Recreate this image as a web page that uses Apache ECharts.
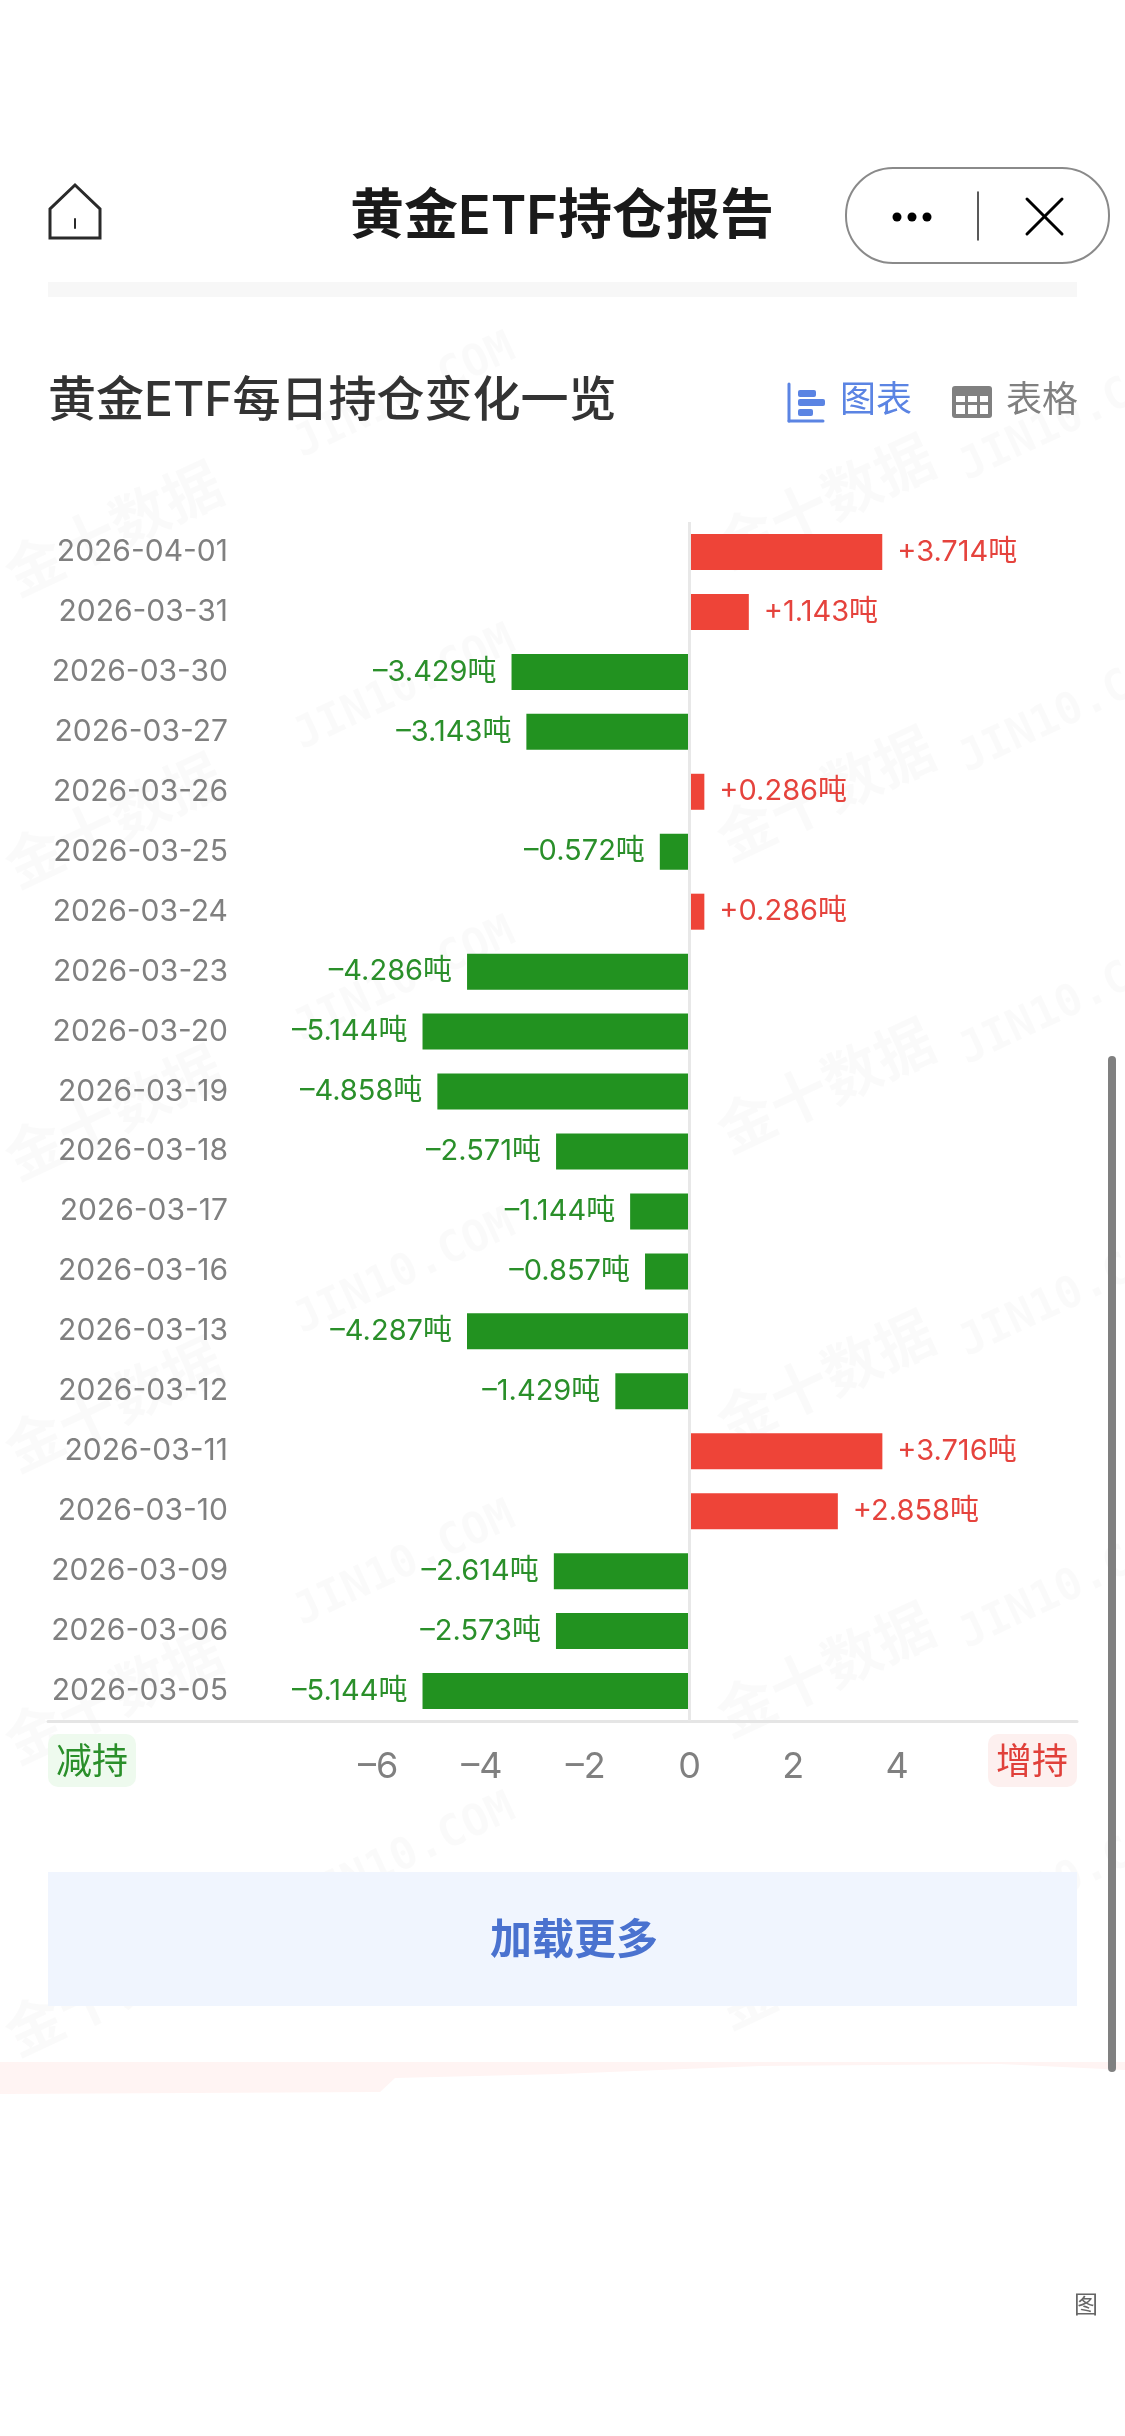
<!DOCTYPE html>
<html>
<head>
<meta charset="utf-8">
<title>黄金ETF持仓报告</title>
<script src="https://cdn.jsdelivr.net/npm/echarts@6/dist/echarts.min.js"></script>
<style>
html, body { margin: 0; padding: 0; background: #fff; }
#etf_chart { width: 1125px; height: 2436px; }
</style>
</head>
<body>
<div id="etf_chart"></div>
<script>
var dates = ['2026-04-01', '2026-03-31', '2026-03-30', '2026-03-27', '2026-03-26', '2026-03-25', '2026-03-24',
    '2026-03-23', '2026-03-20', '2026-03-19', '2026-03-18', '2026-03-17', '2026-03-16', '2026-03-13',
    '2026-03-12', '2026-03-11', '2026-03-10', '2026-03-09', '2026-03-06', '2026-03-05'];
var changes = [3.714, 1.143, -3.429, -3.143, 0.286, -0.572, 0.286, -4.286, -5.144, -4.858, -2.571, -1.144,
    -0.857, -4.287, -1.429, 3.716, 2.858, -2.614, -2.573, -5.144];
var xTicks = [-6, -4, -2, 0, 2, 4];

var FONT = 'Inter, "Noto Sans CJK SC", sans-serif';
var RED = '#ee4438', GREEN = '#229220';
var BLUE = '#5b84e3', GREY = '#808080';

// faint tiled watermark, lives behind everything
function watermarks() {
    var list = [];
    for (var i = 0; i < 6; i++) {
        list.push(mark('金十数据', 115, 532 + i * 292, 58, FONT));
        list.push(mark('金十数据', 827, 505 + i * 292, 58, FONT));
        list.push(mark('JIN10.COM', 405, 397 + i * 292, 44, '"DejaVu Sans Mono", monospace'));
        list.push(mark('JIN10.COM', 1070, 420 + i * 292, 44, '"DejaVu Sans Mono", monospace'));
    }
    return list;
}
function mark(text, x, y, size, family) {
    return {
        type: 'text', x: x, y: y, rotation: 25 * Math.PI / 180, silent: true,
        style: {
            text: text, fill: 'rgba(0,0,0,0.018)', fontSize: size, fontWeight: 700, fontFamily: family,
            align: 'center', verticalAlign: 'middle'
        }
    };
}
function label(text, x, y, size, color, weight, align) {
    return {
        type: 'text', x: x, y: y, silent: true,
        style: {
            text: text, fill: color, fontSize: size, fontWeight: weight || 400, fontFamily: FONT,
            align: align || 'center', verticalAlign: 'middle'
        }
    };
}
function box(x, y, w, h, color, r) {
    return { type: 'rect', silent: true, shape: { x: x, y: y, width: w, height: h, r: r || 0 }, style: { fill: color } };
}
function stroke(x1, y1, x2, y2, color, w) {
    return {
        type: 'line', silent: true, shape: { x1: x1, y1: y1, x2: x2, y2: y2 },
        style: { stroke: color, lineWidth: w, lineCap: 'round' }
    };
}

var chrome = [
    // pink smear near the bottom
    { type: 'polygon', silent: true, shape: { points: [[0, 2062], [1125, 2062], [1125, 2070], [1000, 2064], [760, 2066], [560, 2074], [395, 2078], [380, 2092], [0, 2094]] }, style: { fill: '#fff4f3' } },
    box(48, 282, 1029, 15, '#f7f7f7'),

    // home icon
    { type: 'polygon', silent: true, shape: { points: [[75, 185], [100, 209], [100, 238], [50, 238], [50, 209]] }, style: { fill: 'none', stroke: '#2a2a2a', lineWidth: 3 } },
    stroke(75, 219, 75, 228, '#2a2a2a', 2),

    label('黄金ETF持仓报告', 562, 218, 54, '#1a1a1a', 600),

    // capsule buttons
    { type: 'rect', silent: true, shape: { x: 846, y: 168, width: 263, height: 95, r: 47 }, style: { fill: '#fff', stroke: '#8a8a8a', lineWidth: 2 } },
    { type: 'circle', silent: true, shape: { cx: 897, cy: 217, r: 4.5 }, style: { fill: '#000' } },
    { type: 'circle', silent: true, shape: { cx: 912, cy: 217, r: 4.5 }, style: { fill: '#000' } },
    { type: 'circle', silent: true, shape: { cx: 927, cy: 217, r: 4.5 }, style: { fill: '#000' } },
    stroke(978, 192, 978, 240, '#222', 1.5),
    stroke(1027, 199, 1062, 234, '#000', 3),
    stroke(1062, 199, 1027, 234, '#000', 3),

    label('黄金ETF每日持仓变化一览', 48, 402, 48, '#333', 500, 'left'),

    // chart / table toggles
    stroke(789, 384, 789, 421, BLUE, 3),
    stroke(789, 421, 823, 421, BLUE, 3),
    box(798, 390, 18, 7, BLUE, 2),
    box(798, 399, 27, 7, BLUE, 2),
    box(798, 409, 15, 7, BLUE, 2),
    label('图表', 876, 401, 36, BLUE, 400),
    box(952, 386, 40, 32, GREY, 3),
    box(956, 396, 9, 6, '#fff'), box(968, 396, 9, 6, '#fff'), box(980, 396, 8, 6, '#fff'),
    box(956, 405, 9, 9, '#fff'), box(968, 405, 9, 9, '#fff'), box(980, 405, 8, 9, '#fff'),
    label('表格', 1042, 401, 36, GREY, 400),

    // sell / buy tags beside the axis
    box(48, 1734, 88, 53, '#eefaee', 10),
    label('减持', 92, 1763, 36, '#2a8f2a'),
    box(988, 1734, 89, 53, '#fdf0ef', 10),
    label('增持', 1032, 1763, 36, '#e0403a'),

    // load more button
    box(48, 1872, 1029, 134, '#f0f5fe'),
    label('加载更多', 574, 1941, 42, '#4a72cf', 600),

    // scrollbar and clipped floating button
    box(1108, 1056, 8, 1016, GREY, 4),
    label('图', 1086, 2306, 24, '#666')
];

var etf_chart = echarts.init(document.getElementById('etf_chart'));

var etf_option = {
    backgroundColor: '#fff',
    animation: false,
    graphic: { elements: watermarks().concat(chrome) },
    grid: { left: 48, right: 48, top: 522, height: 1199 },
    xAxis: {
        type: 'value',
        position: 'bottom',
        min: -12.36,
        max: 7.466,
        splitLine: { show: false },
        axisTick: { show: false },
        axisLine: { show: true, lineStyle: { color: '#e5e5e5', width: 3 } },
        axisLabel: {
            customValues: xTicks,
            margin: 28,
            color: GREY,
            fontSize: 36,
            fontFamily: FONT,
            formatter: function (v) { return v < 0 ? '–' + Math.abs(v) : String(v); }
        }
    },
    yAxis: {
        type: 'category',
        inverse: true,
        data: dates,
        axisTick: { show: false },
        axisLine: { show: false, onZero: false },
        axisLabel: { margin: -180, color: GREY, fontSize: 30, fontFamily: FONT }
    },
    series: [{
        type: 'bar',
        barWidth: 36,
        data: changes.map(function (v) {
            return {
                value: v,
                itemStyle: { color: v >= 0 ? RED : GREEN },
                label: { position: v >= 0 ? 'right' : 'left', color: v >= 0 ? '#e5433d' : '#2a8f2a' }
            };
        }),
        label: {
            show: true,
            distance: 15,
            fontSize: 29,
            fontFamily: FONT,
            formatter: function (p) {
                return (p.value >= 0 ? '+' : '–') + Math.abs(p.value).toFixed(3) + '吨';
            }
        },
        markLine: {
            silent: true,
            symbol: 'none',
            label: { show: false },
            lineStyle: { color: '#e8e8e8', width: 3, type: 'solid' },
            data: [{ xAxis: 0 }]
        }
    }]
};

etf_chart.setOption(etf_option);
</script>
</body>
</html>
